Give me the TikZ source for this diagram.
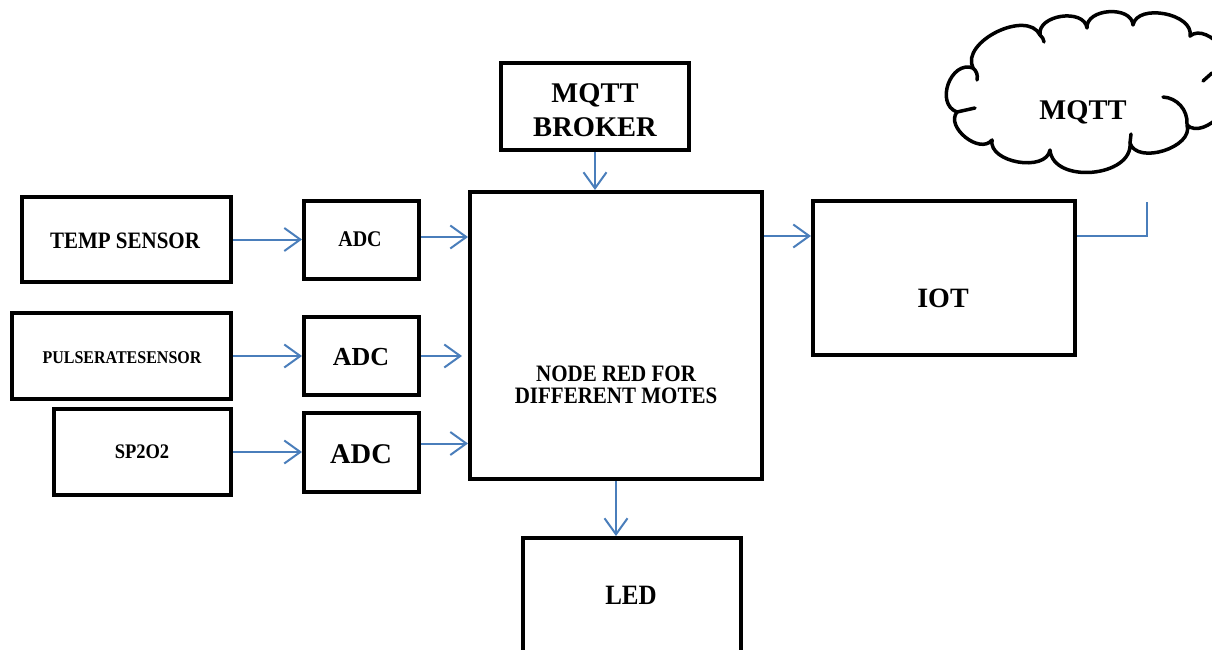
\documentclass[tikz,border=0pt]{standalone}
\usepackage{fontspec}
\setmainfont{Liberation Serif}
\usetikzlibrary{arrows.meta,calc}
\definecolor{arrowblue}{RGB}{74,126,187}
\newcommand{\tallt}[1]{\scalebox{1}[1.12]{#1}}
\tikzset{
  blk/.style={draw=black, line width=4pt, inner sep=0pt, fill=white},
  lbl/.style={font=\bfseries\fontsize{#1}{#1}\selectfont, anchor=base, inner sep=0pt},
  arr/.style={draw=arrowblue, line width=2pt, -{Straight Barb[length=16pt,width=23pt]}},
  conn/.style={draw=arrowblue, line width=2pt},
  cloudline/.style={draw=black, line width=3.5pt, line join=round, line cap=round},
}
\begin{document}
\begin{tikzpicture}[x=1pt,y=-1pt]
\useasboundingbox (0,0) rectangle (1212,650);
\clip (0,0) rectangle (1212,650);

% boxes
\node[blk, minimum width=209pt, minimum height=85pt] (temp) at (126.5,239.5) {};
\node[blk, minimum width=115pt, minimum height=78pt] (adc1) at (361.5,240) {};
\node[blk, minimum width=219pt, minimum height=86pt] (pulse) at (121.5,356) {};
\node[blk, minimum width=115pt, minimum height=78pt] (adc2) at (361.5,356) {};
\node[blk, minimum width=177pt, minimum height=86pt] (sp) at (142.5,452) {};
\node[blk, minimum width=115pt, minimum height=79pt] (adc3) at (361.5,452.5) {};
\node[blk, minimum width=292pt, minimum height=287pt] (main) at (616,335.5) {};
\node[blk, minimum width=188pt, minimum height=87pt] (broker) at (595,106.5) {};
\node[blk, minimum width=218pt, minimum height=140pt] (led) at (632,608) {};
\node[blk, minimum width=262pt, minimum height=154pt] (iot) at (944,278) {};

% labels
\node[lbl=21] (tempT) at (125,248) {\tallt{TEMP SENSOR}};
\node[lbl=20] (adc1T) at (360,246) {\tallt{ADC}};
\node[lbl=16] (pulseT) at (122,363) {\tallt{PULSERATESENSOR}};
\node[lbl=26] (adc2T) at (361,365) {ADC};
\node[lbl=18.5] (spT) at (142,458) {\tallt{SP2O2}};
\node[lbl=28.5] (adc3T) at (361,463) {ADC};
\node[lbl=28.5] (brokerA) at (595,103) {MQTT};
\node[lbl=28.5] (brokerB) at (595,136) {BROKER};
\node[lbl=21] (mainA) at (616,381) {\tallt{NODE RED FOR}};
\node[lbl=21] (mainB) at (616,403) {\tallt{DIFFERENT MOTES}};
\node[lbl=28] (iotT) at (943,307) {IOT};
\node[lbl=25] (ledT) at (631,604) {\tallt{LED}};

% cloud
\draw[cloudline, fill=white]
  (957,112) to[bend left=90, looseness=1.3] (973,68)
  to[bend left=90, looseness=1.0] (1040,35)
  to[bend left=90, looseness=1.1] (1087,28)
  to[bend left=90, looseness=1.1] (1133,25)
  to[bend left=90, looseness=1.0] (1190,36)
  to[bend left=90, looseness=1.0] (1228,82)
  to[bend left=90, looseness=1.0] (1187,125)
  to[bend left=90, looseness=1.0] (1130,143)
  to[bend left=90, looseness=1.1] (1050,150)
  to[bend left=90, looseness=1.0] (992,140)
  to[bend left=90, looseness=1.1] (957,112);
\draw[cloudline] (973,68) to[bend left=30] (977,80);
\draw[cloudline] (1040,35) to[bend left=20] (1044,42);
\draw[cloudline] (1163,97) to[bend left=45] (1187,124);
\draw[cloudline] (1203,81) -- (1212,73);
\draw[cloudline] (1130,143) -- (1131,134);
\draw[cloudline] (957,112) -- (975,108);
\node[lbl=28.5] (cloudT) at (1083,120) {MQTT};

% connectors
\draw[arr] (temp.east) -- (temp.east -| adc1.west);
\draw[arr] ([yshift=3pt]adc1.east) -- ([yshift=3pt]adc1.east -| main.west);
\draw[arr] (pulse.east) -- (pulse.east -| adc2.west);
\draw[arr, shorten >=6pt] (adc2.east) -- (adc2.east -| main.west);
\draw[arr] (sp.east) -- (sp.east -| adc3.west);
\draw[arr] ([yshift=9pt]adc3.east) -- ([yshift=9pt]adc3.east -| main.west);
\draw[arr] (broker.south) -- (broker.south |- main.north);
\draw[arr] (main.south) -- (main.south |- led.north);
\coordinate (iotin) at ([yshift=42pt]iot.west);
\draw[arr] (iotin -| main.east) -- (iotin);
\coordinate (cloudend) at (1147,202);
\draw[conn] ([yshift=42pt]iot.east) -| (cloudend);
\end{tikzpicture}
\end{document}
